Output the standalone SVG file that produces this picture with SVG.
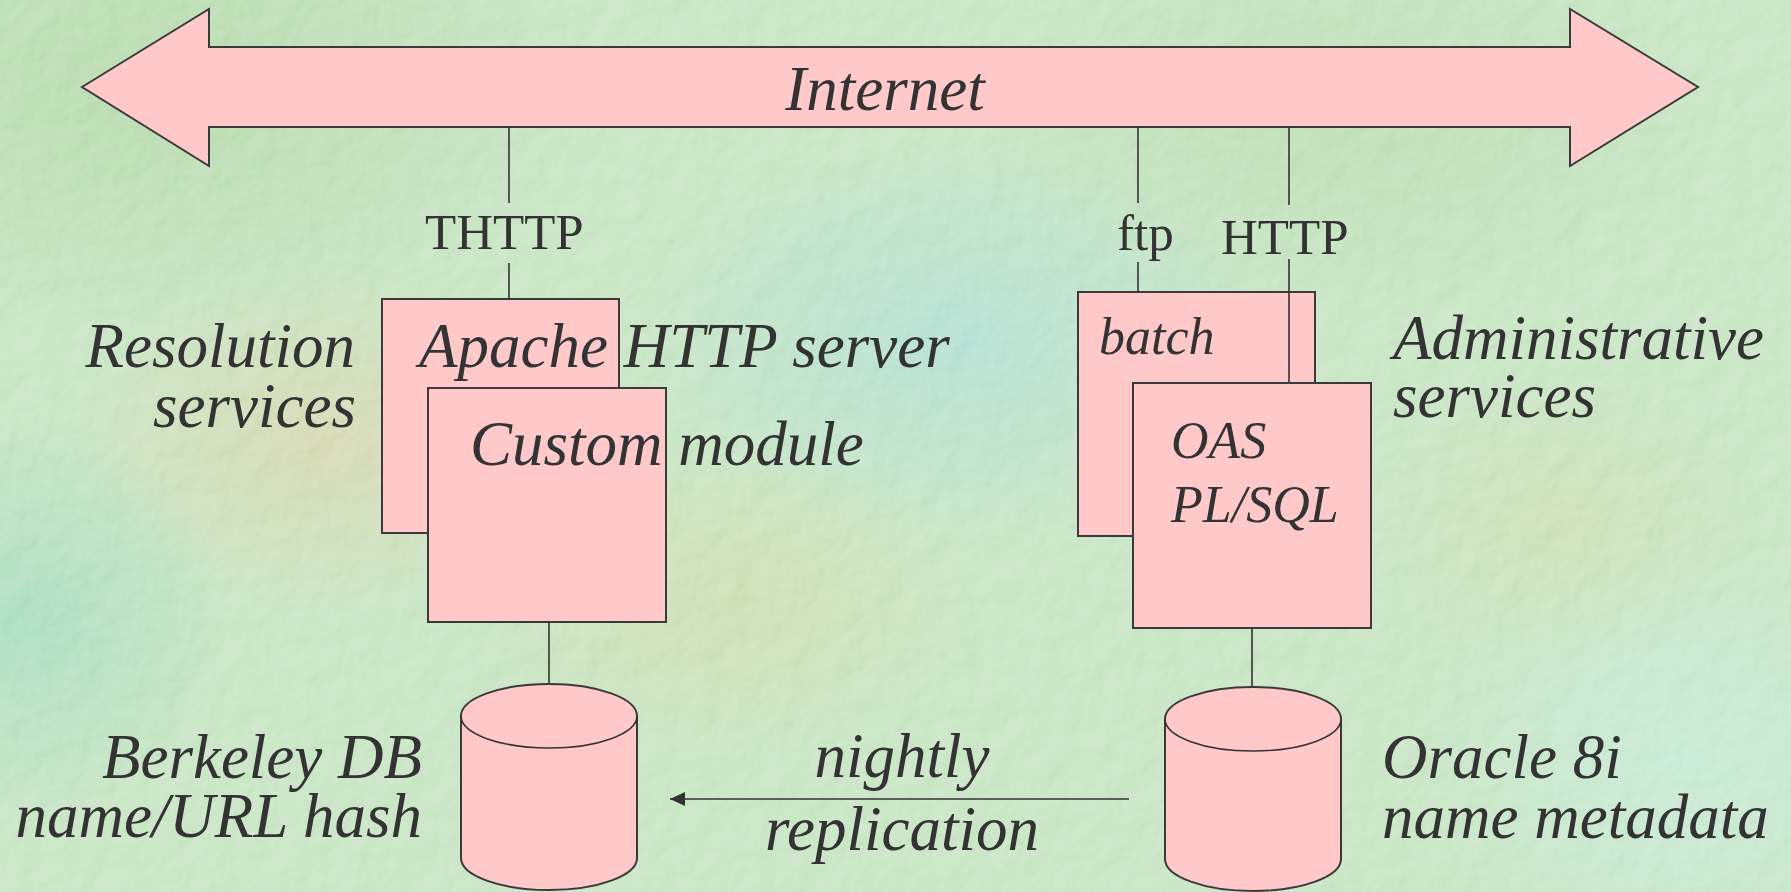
<svg xmlns="http://www.w3.org/2000/svg" width="1791" height="892" viewBox="0 0 1791 892">
<style>
.sh{fill:#ffc9c9;stroke:#3a3a3a;stroke-width:2}
.ln{stroke:#333;stroke-width:1.6;fill:none}
.it{font-family:"Liberation Serif","Times New Roman",serif;font-style:italic;fill:#333;font-size:63px}
.up{font-family:"Liberation Serif","Times New Roman",serif;fill:#333;font-size:51px}
.sm{font-size:52px}
</style>
<defs>
<radialGradient id="g1"><stop offset="0" stop-color="#a6d29a" stop-opacity="0.9"/><stop offset="1" stop-color="#a6d29a" stop-opacity="0"/></radialGradient>
<radialGradient id="g2"><stop offset="0" stop-color="#d2d0a2" stop-opacity="0.9"/><stop offset="1" stop-color="#d2d0a2" stop-opacity="0"/></radialGradient>
<radialGradient id="g3"><stop offset="0" stop-color="#a2dace" stop-opacity="0.9"/><stop offset="1" stop-color="#a2dace" stop-opacity="0"/></radialGradient>
<radialGradient id="g4"><stop offset="0" stop-color="#96d6b2" stop-opacity="0.9"/><stop offset="1" stop-color="#96d6b2" stop-opacity="0"/></radialGradient>
<radialGradient id="g5"><stop offset="0" stop-color="#c6d8a0" stop-opacity="0.8"/><stop offset="1" stop-color="#c6d8a0" stop-opacity="0"/></radialGradient>
<radialGradient id="g6"><stop offset="0" stop-color="#bce6d0" stop-opacity="0.9"/><stop offset="1" stop-color="#bce6d0" stop-opacity="0"/></radialGradient>
<filter id="tex" x="0" y="0" width="100%" height="100%">
<feTurbulence type="fractalNoise" baseFrequency="0.035" numOctaves="3" seed="4" result="n"/>
<feDiffuseLighting in="n" surfaceScale="4" lighting-color="#ffffff" result="l"><feDistantLight azimuth="225" elevation="50"/></feDiffuseLighting>
</filter>
<marker id="ah" viewBox="0 0 15 14" refX="15" refY="7" markerWidth="15" markerHeight="14" markerUnits="userSpaceOnUse" orient="auto"><path d="M0,0 L15,7 L0,14 Z" fill="#333"/></marker>
</defs>
<g id="background">
<rect width="1791" height="892" fill="#bde0b8"/>
<ellipse cx="150" cy="80" rx="450" ry="260" fill="url(#g1)"/>
<ellipse cx="330" cy="440" rx="260" ry="170" fill="url(#g2)"/>
<ellipse cx="960" cy="340" rx="320" ry="200" fill="url(#g3)"/>
<ellipse cx="30" cy="620" rx="200" ry="200" fill="url(#g4)"/>
<ellipse cx="720" cy="600" rx="260" ry="160" fill="url(#g5)"/>
<ellipse cx="1680" cy="760" rx="260" ry="220" fill="url(#g6)"/>
<ellipse cx="1350" cy="120" rx="380" ry="200" fill="url(#g1)" opacity="0.6"/>
<ellipse cx="1560" cy="520" rx="200" ry="150" fill="url(#g5)" opacity="0.7"/>
<rect width="1791" height="892" filter="url(#tex)" opacity="0.3" style="mix-blend-mode:overlay"/>
</g>
<g id="internet">
<polygon class="sh" points="82,87 209,9 209,47 1570,47 1570,9 1698,87 1570,166 1570,127 209,127 209,166"/>
<text class="it" x="885" y="110" text-anchor="middle" font-size="62">Internet</text>
</g>
<g id="apache">
<rect class="sh" x="382" y="299" width="237" height="234"/>
</g>
<g id="custom">
<rect class="sh" x="428" y="388" width="238" height="234"/>
</g>
<g id="batch">
<rect class="sh" x="1078" y="292" width="237" height="244"/>
</g>
<g id="connectors">
<path class="ln" d="M509,127 V203 M509,263 V299"/>
<path class="ln" d="M1138,127 V203 M1138,262 V292"/>
<path class="ln" d="M1289,127 V205 M1289,259 V383"/>
<path class="ln" d="M549,622 V684"/>
<path class="ln" d="M1252,628 V687"/>
<path class="ln" d="M1129,799 H670" stroke-width="2.2" marker-end="url(#ah)"/>
</g>
<g id="oas">
<rect class="sh" x="1133" y="383" width="238" height="245"/>
<text class="it sm" x="1171" y="458">OAS</text>
<text class="it sm" x="1171" y="522">PL/SQL</text>
</g>
<g id="berkeley">
<path class="sh" d="M461,716 V858 A88,32 0 0 0 637,858 V716 A88,32 0 0 0 461,716 Z"/>
<path class="ln" d="M461,716 A88,32 0 0 0 637,716" stroke-width="2"/>
</g>
<g id="oracle">
<path class="sh" d="M1165,719 V859 A88,32 0 0 0 1341,859 V719 A88,32 0 0 0 1165,719 Z"/>
<path class="ln" d="M1165,719 A88,32 0 0 0 1341,719" stroke-width="2"/>
</g>
<g id="labels">
<text class="up" x="425" y="249">THTTP</text>
<text class="up" x="1117" y="250">ftp</text>
<text class="up" x="1221" y="254">HTTP</text>
<text class="it" x="355" y="367" text-anchor="end">Resolution</text>
<text class="it" x="356" y="427" text-anchor="end">services</text>
<text class="it" x="419" y="367">Apache HTTP server</text>
<text class="it" x="470" y="465">Custom module</text>
<text class="it sm" x="1099" y="354">batch</text>
<text class="it" x="1393" y="359">Administrative</text>
<text class="it" x="1393" y="417">services</text>
<text class="it" x="422" y="778" text-anchor="end">Berkeley DB</text>
<text class="it" x="422" y="837" text-anchor="end">name/URL hash</text>
<text class="it" x="902" y="777" text-anchor="middle">nightly</text>
<text class="it" x="902" y="850" text-anchor="middle">replication</text>
<text class="it" x="1382" y="778">Oracle 8i</text>
<text class="it" x="1382" y="838">name metadata</text>
</g>
</svg>
